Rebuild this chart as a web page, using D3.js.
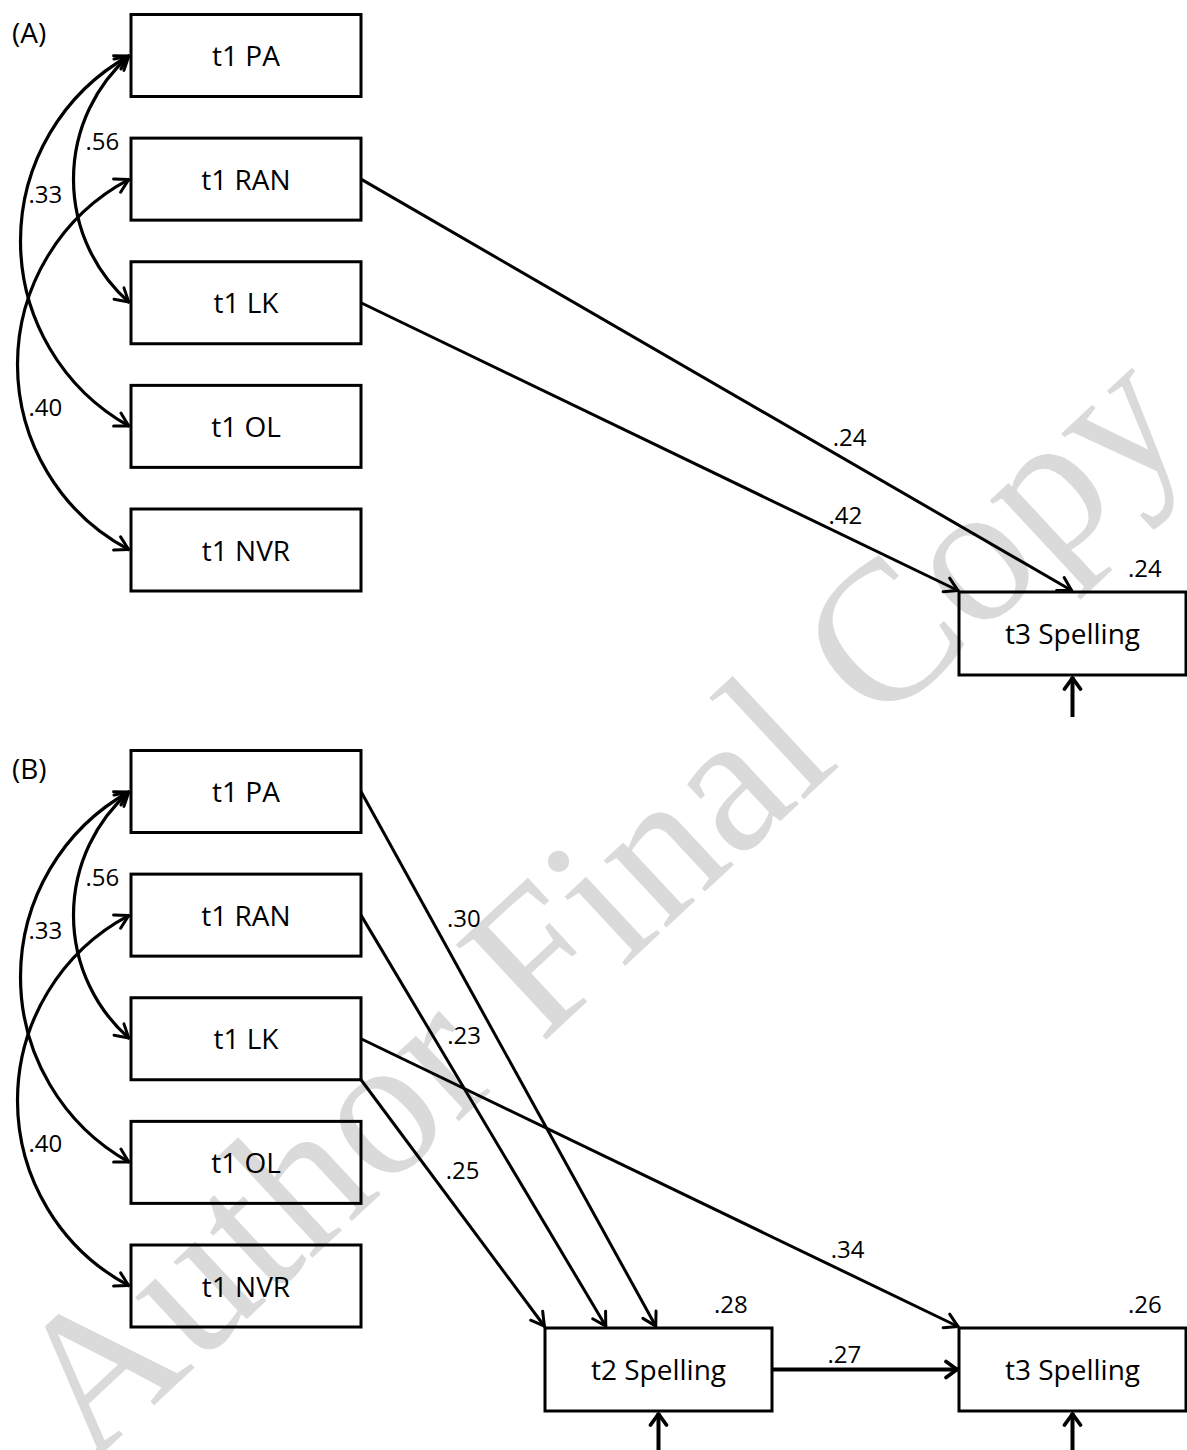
<!DOCTYPE html>
<html>
<head>
<meta charset="utf-8">
<script src="https://cdn.jsdelivr.net/npm/d3@7"></script>
<style>
  html, body { margin: 0; padding: 0; background: #ffffff; }
  svg { display: block; }
</style>
</head>
<body>
<script>
// ---------------- data ----------------
const panels = ["(A)", "(B)"];
const predictors = ["t1 PA", "t1 RAN", "t1 LK", "t1 OL", "t1 NVR"];
const outcomesA = ["t3 Spelling"];
const outcomesB = ["t2 Spelling", "t3 Spelling"];
// correlations among predictors: [from, to, r]
const correlations = [
  ["t1 PA", "t1 LK", ".56"],
  ["t1 PA", "t1 OL", ".33"],
  ["t1 RAN", "t1 NVR", ".40"]
];
// directed paths: [from, to, beta]
const pathsA = [
  ["t1 RAN", "t3 Spelling", ".24"],
  ["t1 LK", "t3 Spelling", ".42"]
];
const pathsB = [
  ["t1 PA", "t2 Spelling", ".30"],
  ["t1 RAN", "t2 Spelling", ".23"],
  ["t1 LK", "t2 Spelling", ".25"],
  ["t1 LK", "t3 Spelling", ".34"],
  ["t2 Spelling", "t3 Spelling", ".27"]
];
// explained variance
const r2A = [["t3 Spelling", ".24"]];
const r2B = [["t2 Spelling", ".28"], ["t3 Spelling", ".26"]];
const watermarkText = "Author Final Copy";

// ---------------- layout ----------------
const W = 1187, H = 1450;
const panelY = d3.scaleBand().domain(panels).range([0, 1472]);
const rowY = d3.scalePoint().domain(predictors).range([55.5, 550]);
const colX = d3.scaleOrdinal().domain(["pred", "t2 Spelling", "t3 Spelling"]).range([131, 545, 959]);
const predW = 230, predH = 82, outW = 227, outH = 83, outTop = 592;

// correlation arc bulge and label offsets
const corrLayout = [
  { bulge: 56, dx: 12, dy: -29 },
  { bulge: 109, dx: 8, dy: -38 },
  { bulge: 112, dx: 11, dy: 51 }
];
// path attachment and label placement
const pathLayoutA = [
  { src: "right", dst: ["top", 0.5], t: 0.684, dx: -15, dy: -15 },
  { src: "right", dst: ["top", 0.0], t: 0.81, dx: -17, dy: -12 }
];
const pathLayoutB = [
  { src: "right", dst: ["top", 0.49], t: 0.237, dx: 16, dy: 9 },
  { src: "right", dst: ["top", 0.27], t: 0.29, dx: 15, dy: 9 },
  { src: "corner", dst: ["top", 0.0], t: 0.363, dx: 18, dy: 9 },
  { src: "right", dst: ["top", 0.0], t: 0.814, dx: -17, dy: -15 },
  { src: "right", dst: ["left", 0.5], t: 0.39, dx: -17, dy: -7, thick: true }
];

function box(name) {
  if (predictors.includes(name)) {
    return { x: colX("pred"), y: rowY(name) - predH / 2, w: predW, h: predH };
  }
  return { x: colX(name), y: outTop, w: outW, h: outH };
}

const FONT = "'Open Sans', 'Liberation Sans', sans-serif";

const svg = d3.select("body").append("svg")
  .attr("width", W).attr("height", H)
  .attr("viewBox", `0 0 ${W} ${H}`);

const defs = svg.append("defs");
function marker(id, len, half, sw) {
  defs.append("marker")
    .attr("id", id)
    .attr("markerUnits", "userSpaceOnUse")
    .attr("viewBox", "-25 -15 30 30")
    .attr("markerWidth", 30).attr("markerHeight", 30)
    .attr("refX", 0).attr("refY", 0)
    .attr("orient", "auto-start-reverse")
    .append("path")
    .attr("d", `M${-len},${-half} L-1,0 L${-len},${half}`)
    .attr("fill", "none").attr("stroke", "#000")
    .attr("stroke-width", sw).attr("stroke-linejoin", "round").attr("stroke-linecap", "round");
}
marker("arr", 14, 7.5, 3);
marker("arrThick", 12, 8, 3.8);

// watermark
svg.append("text")
  .attr("transform", "translate(90,1465) rotate(-43)")
  .attr("font-family", "'Liberation Serif', 'DejaVu Serif', serif")
  .attr("font-size", 200)
  .attr("fill", "#dadada")
  .text(watermarkText);

function drawPanel(label, outcomes, paths, pathLayout, r2) {
  const g = svg.append("g").attr("transform", `translate(0,${panelY(label)})`);

  g.append("text").attr("x", 12).attr("y", 43)
    .attr("font-family", FONT).attr("font-size", 28).attr("fill", "#000")
    .text(label);

  // boxes
  const allBoxes = predictors.concat(outcomes);
  const bg = g.selectAll("g.node").data(allBoxes).join("g").attr("class", "node");
  bg.append("rect")
    .attr("x", d => box(d).x).attr("y", d => box(d).y)
    .attr("width", d => box(d).w).attr("height", d => box(d).h)
    .attr("fill", "none").attr("stroke", "#000").attr("stroke-width", 3);
  bg.append("text")
    .attr("x", d => box(d).x + box(d).w / 2)
    .attr("y", d => box(d).y + box(d).h / 2 + 10.5)
    .attr("text-anchor", "middle")
    .attr("font-family", FONT).attr("font-size", 28).attr("fill", "#000")
    .text(d => d);

  // correlation arcs
  const xL = colX("pred") - 1.5;
  correlations.forEach((c, i) => {
    const y1 = rowY(c[0]), y2 = rowY(c[1]);
    const s = corrLayout[i].bulge;
    const half = (y2 - y1) / 2;
    const r = (half * half + s * s) / (2 * s);
    g.append("path")
      .attr("d", `M${xL},${y1} A${r},${r} 0 0 0 ${xL},${y2}`)
      .attr("fill", "none").attr("stroke", "#000").attr("stroke-width", 3.2)
      .attr("marker-start", "url(#arr)").attr("marker-end", "url(#arr)");
    g.append("text")
      .attr("x", xL - s + corrLayout[i].dx)
      .attr("y", (y1 + y2) / 2 + corrLayout[i].dy)
      .attr("font-family", FONT).attr("font-size", 24).attr("fill", "#000")
      .text(c[2]);
  });

  // directed paths
  paths.forEach((p, i) => {
    const L = pathLayout[i];
    const a = box(p[0]), b = box(p[1]);
    let x1, y1, x2, y2;
    if (L.src === "corner") { x1 = a.x + a.w; y1 = a.y + a.h; }
    else { x1 = a.x + a.w; y1 = a.y + a.h / 2; }
    if (L.dst[0] === "top") { x2 = b.x + b.w * L.dst[1]; y2 = b.y - 1; }
    else { x2 = b.x - 1; y2 = b.y + b.h * L.dst[1]; }
    g.append("line")
      .attr("x1", x1).attr("y1", y1).attr("x2", x2).attr("y2", y2)
      .attr("stroke", "#000").attr("stroke-width", L.thick ? 3.8 : 3)
      .attr("marker-end", L.thick ? "url(#arrThick)" : "url(#arr)");
    const px = x1 + (x2 - x1) * L.t, py = y1 + (y2 - y1) * L.t;
    g.append("text")
      .attr("x", px + L.dx).attr("y", py + L.dy)
      .attr("font-family", FONT).attr("font-size", 24).attr("fill", "#000")
      .text(p[2]);
  });

  // R2 labels and residual arrows
  r2.forEach(r => {
    const b = box(r[0]);
    g.append("text")
      .attr("x", b.x + b.w - 58).attr("y", b.y - 15)
      .attr("font-family", FONT).attr("font-size", 24).attr("fill", "#000")
      .text(r[1]);
    const cx = b.x + b.w / 2;
    g.append("line")
      .attr("x1", cx).attr("y1", b.y + b.h + 42)
      .attr("x2", cx).attr("y2", b.y + b.h + 2)
      .attr("stroke", "#000").attr("stroke-width", 4)
      .attr("marker-end", "url(#arrThick)");
  });
}

drawPanel("(A)", outcomesA, pathsA, pathLayoutA, r2A);
drawPanel("(B)", outcomesB, pathsB, pathLayoutB, r2B);
</script>
</body>
</html>
